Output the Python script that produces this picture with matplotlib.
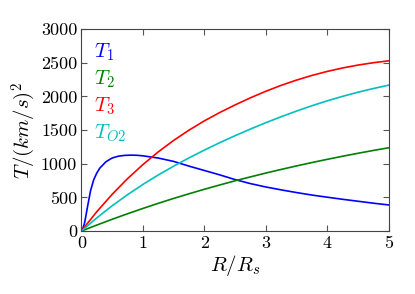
import numpy as np
import matplotlib
matplotlib.use("Agg")
import matplotlib.pyplot as plt

plt.rcParams['font.family'] = 'serif'
plt.rcParams['font.serif'] = ['cmr10', 'DejaVu Serif']
plt.rcParams['mathtext.fontset'] = 'cm'
plt.rcParams['axes.unicode_minus'] = False
plt.rcParams['axes.formatter.use_mathtext'] = False

# values
x_fine = [0, 0.025, 0.05, 0.075, 0.1, 0.15, 0.2, 0.25, 0.3, 0.4, 0.5, 0.6, 0.7, 0.8, 0.9, 1.0,
          1.25, 1.5, 1.75, 2.0, 2.25, 2.5, 2.75, 3.0, 3.25, 3.5, 3.75, 4.0, 4.25, 4.5, 4.75, 5.0]
T1 = [0, 40, 110, 230, 360, 600, 760, 860, 935, 1030, 1085, 1112, 1124, 1128, 1126, 1118,
      1085, 1035, 965, 900, 835, 765, 705, 655, 612, 572, 535, 503, 472, 443, 414, 388]

x = [0, 0.25, 0.5, 0.75, 1.0, 1.25, 1.5, 1.75, 2.0, 2.25, 2.5, 2.75, 3.0, 3.25, 3.5, 3.75,
     4.0, 4.25, 4.5, 4.75, 5.0]
T2 = [0, 89, 175, 257, 336, 412, 485, 554, 621, 685, 747, 805, 862, 916, 968, 1018,
      1066, 1112, 1156, 1198, 1238]
T3 = [0, 287, 545, 778, 987, 1176, 1346, 1499, 1637, 1761, 1874, 1980, 2077, 2165, 2243, 2312,
      2372, 2423, 2466, 2501, 2529]
TO2 = [0, 195, 375, 540, 692, 833, 964, 1087, 1203, 1313, 1417, 1516, 1610, 1699, 1783, 1862,
       1935, 2002, 2063, 2118, 2168]

fig = plt.figure(figsize=(4.15, 2.94), dpi=100)
ax = fig.add_axes([0.196, 0.214, 0.741, 0.687])

ax.plot(x_fine, T1, color='b', lw=1.2)
ax.plot(x, T2, color='g', lw=1.2)
ax.plot(x, T3, color='r', lw=1.2)
ax.plot(x, TO2, color='c', lw=1.2)

labels = [r'$T_1$', r'$T_2$', r'$T_3$', r'$T_{O2}$']
colors = ['b', 'g', 'r', 'c']
ys = [0.858, 0.726, 0.594, 0.457]
for lab, c, yy in zip(labels, colors, ys):
    ax.text(0.04, yy, lab, color=c, fontsize=15, transform=ax.transAxes, va='baseline')

ax.set_xlim(0, 5)
ax.set_ylim(0, 3000)
ax.set_xticks([0, 1, 2, 3, 4, 5])
ax.set_yticks([0, 500, 1000, 1500, 2000, 2500, 3000])
ax.tick_params(direction='in', top=True, right=True, length=4, labelsize=13, pad=3,
               color='#555555')
for s in ax.spines.values():
    s.set_color('#444444')

ax.set_xlabel(r'$R/R_s$', fontsize=15, labelpad=2)
ax.set_ylabel(r'$T/(km/s)^2$', fontsize=15, labelpad=2)

plt.savefig('out.png', dpi=100)
